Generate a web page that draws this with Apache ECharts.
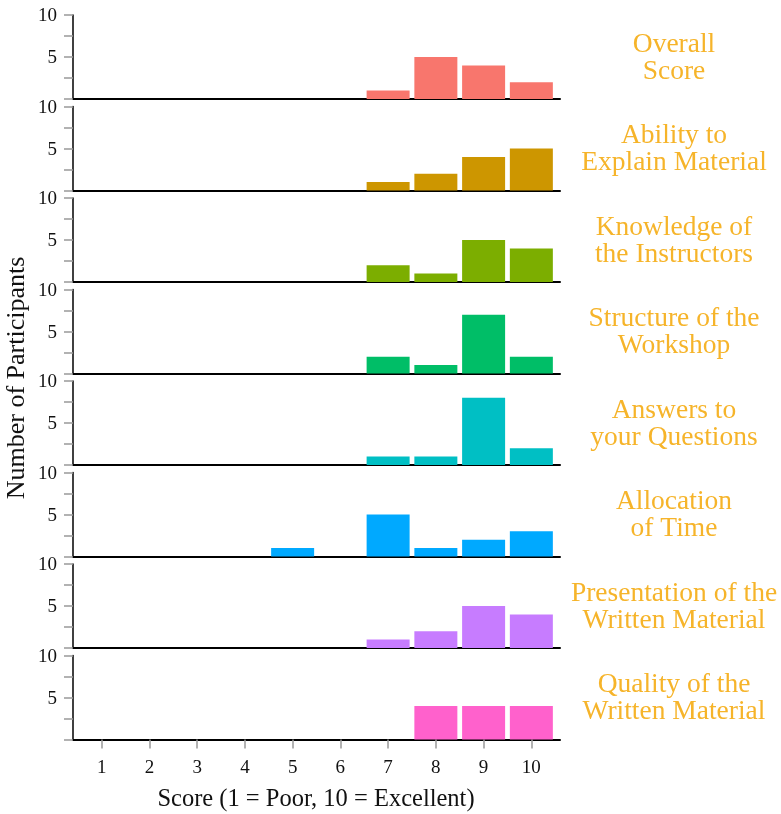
<!DOCTYPE html>
<html>
<head>
<meta charset="utf-8">
<script src="https://cdn.jsdelivr.net/npm/echarts@6/dist/echarts.min.js"></script>
<style>html,body{margin:0;padding:0;background:#fff}#c{width:781px;height:814px}</style>
</head>
<body>
<div id="c"></div>
<script>
var scores = [1, 2, 3, 4, 5, 6, 7, 8, 9, 10];
var panelLabels = [
  "Overall\nScore",
  "Ability to\nExplain Material",
  "Knowledge of\nthe Instructors",
  "Structure of the\nWorkshop",
  "Answers to\nyour Questions",
  "Allocation\nof Time",
  "Presentation of the\nWritten Material",
  "Quality of the\nWritten Material"
];
var colors = ["#F8766D", "#CD9600", "#7CAE00", "#00BE67", "#00BFC4", "#00A9FF", "#C77CFF", "#FF61CC"];
var overall      = [0, 0, 0, 0, 0, 0, 1, 5, 4, 2];
var ability      = [0, 0, 0, 0, 0, 0, 1, 2, 4, 5];
var knowledge    = [0, 0, 0, 0, 0, 0, 2, 1, 5, 4];
var structure    = [0, 0, 0, 0, 0, 0, 2, 1, 7, 2];
var answers      = [0, 0, 0, 0, 0, 0, 1, 1, 8, 2];
var allocation   = [0, 0, 0, 0, 1, 0, 5, 1, 2, 3];
var presentation = [0, 0, 0, 0, 0, 0, 1, 2, 5, 4];
var quality      = [0, 0, 0, 0, 0, 0, 0, 4, 4, 4];
var yTickValues = [0, 2.5, 5, 7.5, 10];
var yLabelValues = [5, 10];
var xAxisTitle = "Score (1 = Poor, 10 = Excellent)";
var yAxisTitle = "Number of Participants";

var allSeries = [overall, ability, knowledge, structure, answers, allocation, presentation, quality];
var FONT = "'Liberation Serif', 'DejaVu Serif', serif";
var n = allSeries.length;
var top0 = 15, step = 91.5, ph = 84, left = 73, pw = 487;
var grids = [], xAxes = [], yAxes = [], series = [], graphics = [];
for (var i = 0; i < n; i++) {
  var last = (i === n - 1);
  grids.push({left: left, width: pw, top: top0 + step * i, height: ph});
  xAxes.push({
    type: 'value', gridIndex: i, min: 0.4, max: 10.6,
    axisLine: {show: true, onZero: false, lineStyle: {color: '#000', width: 2}},
    axisTick: {show: last, customValues: scores, length: 9, lineStyle: {color: '#999', width: 1.5}},
    axisLabel: {show: last, customValues: scores, margin: 19, color: '#111', fontFamily: FONT, fontSize: 19},
    splitLine: {show: false}
  });
  yAxes.push({
    type: 'value', gridIndex: i, min: 0, max: 10,
    axisLine: {show: true, lineStyle: {color: '#000', width: 1.5}},
    axisTick: {show: true, customValues: yTickValues, length: 9, lineStyle: {color: '#999', width: 1.5}},
    axisLabel: {show: true, customValues: yLabelValues, margin: 16, color: '#111', fontFamily: FONT, fontSize: 19,
      verticalAlign: 'top', padding: [-8, 0, 0, 0]},
    splitLine: {show: false}
  });
  series.push({
    type: 'bar', xAxisIndex: i, yAxisIndex: i, barWidth: 43,
    itemStyle: {color: colors[i]},
    data: scores.map(function (s, k) { return [s, allSeries[i][k]]; }),
    z: 1
  });
  graphics.push({
    type: 'text', x: 674, y: top0 + step * i + ph / 2 + 1,
    style: {text: panelLabels[i], align: 'center', verticalAlign: 'middle',
      fill: '#F6B42A', font: "27.5px " + FONT, lineHeight: 27}
  });
}
graphics.push({
  type: 'text', x: 316, y: 800,
  style: {text: xAxisTitle, align: 'center', verticalAlign: 'middle', fill: '#111', font: "24.5px " + FONT}
});
graphics.push({
  type: 'text', x: 17, y: 378, rotation: Math.PI / 2,
  style: {text: yAxisTitle, align: 'center', verticalAlign: 'middle', fill: '#111', font: "26px " + FONT}
});

var chart = echarts.init(document.getElementById('c'));
chart.setOption({
  animation: false,
  backgroundColor: '#fff',
  grid: grids, xAxis: xAxes, yAxis: yAxes, series: series,
  graphic: graphics
});
</script>
</body>
</html>
